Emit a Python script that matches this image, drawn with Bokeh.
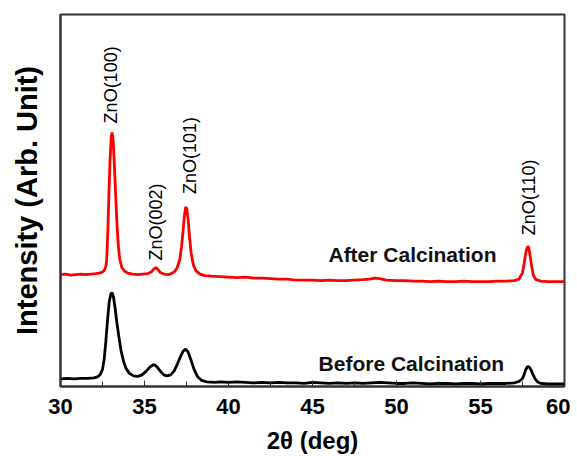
from bokeh.plotting import figure
from bokeh.models import FixedTicker, Range1d
from bokeh.core.properties import value
from bokeh.embed import file_html
from bokeh.resources import INLINE
import math

# 2-theta (deg) and intensity (arb. units)
after_x = [30.0, 30.3, 30.6, 30.9, 31.2, 31.5, 31.8, 32.1, 32.3, 32.5, 32.6, 32.7, 32.75, 32.82, 32.88,
           32.95, 33.02, 33.07, 33.13, 33.2, 33.28, 33.35, 33.43, 33.52, 33.65, 33.85, 34.0, 34.3, 34.6,
           34.9, 35.2, 35.4, 35.55, 35.68, 35.8, 35.95, 36.15, 36.4, 36.6, 36.8, 36.95, 37.1, 37.2, 37.3,
           37.38, 37.45, 37.52, 37.6, 37.68, 37.78, 37.9, 38.05, 38.3, 38.6, 39.0, 39.5, 40.0, 40.5, 41.0,
           41.5, 42.0, 42.5, 43.0, 43.5, 44.0, 44.5, 45.0, 45.5, 46.0, 46.5, 47.0, 47.5, 48.0, 48.4, 48.7,
           49.0, 49.4, 50.0, 50.5, 51.0, 51.5, 52.0, 52.5, 53.0, 53.5, 54.0, 54.5, 55.0, 55.5, 56.0, 56.5,
           57.0, 57.3, 57.5, 57.6, 57.7, 57.8, 57.87, 57.95, 58.05, 58.15, 58.3, 58.6, 59.0, 59.5, 60.0]
after_y = [111, 111.5, 110.5, 111, 111.5, 111, 111.5, 112, 112.5, 113.5, 115, 119, 125, 155, 190,
           225, 248, 252, 245, 222, 192, 165, 142, 127, 118, 114, 112.5, 111.5, 111,
           111.5, 112, 113.5, 116.5, 118, 116, 113, 111.5, 111, 112, 114, 118, 126, 138, 155,
           170, 178, 176, 165, 148, 132, 121, 115, 111.5, 110, 109.5, 109, 108.5, 108, 108.5,
           107.5, 107.5, 107, 106.5, 106.5, 105.5, 105.5, 105.5, 105, 105.5, 105, 105, 105.5, 106, 106.5, 107.5,
           107, 105.5, 105, 105, 104.5, 104.5, 104, 104.5, 104, 104, 104.5, 104, 104, 104, 104.5, 104.5,
           105, 106.5, 113, 122, 133, 139, 138, 130, 119, 110, 106, 104.5, 104, 104, 104]

before_x = [30.0, 30.4, 30.8, 31.2, 31.6, 32.0, 32.2, 32.35, 32.5, 32.6, 32.7, 32.8, 32.9, 33.0, 33.07,
            33.15, 33.25, 33.35, 33.47, 33.6, 33.75, 33.9, 34.1, 34.35, 34.6, 34.85, 35.1, 35.3, 35.5,
            35.6, 35.75, 35.95, 36.15, 36.35, 36.55, 36.75, 36.95, 37.15, 37.3, 37.45, 37.6, 37.75, 37.95,
            38.15, 38.4, 38.7, 39.2, 39.5, 40.0, 40.5, 41.0, 41.5, 42.0, 42.5, 43.0, 43.5, 44.0, 44.5,
            45.0, 45.5, 46.0, 46.5, 47.0, 47.5, 48.0, 48.5, 49.0, 49.5, 50.0, 50.5, 51.0, 51.5, 52.0,
            52.5, 53.0, 53.5, 54.0, 54.5, 55.0, 55.5, 56.0, 56.5, 57.0, 57.3, 57.5, 57.6, 57.7, 57.82,
            57.92, 58.02, 58.12, 58.25, 58.4, 58.6, 59.0, 59.5, 60.0]
before_y = [7.5, 8, 7.5, 8, 8, 8.5, 9.5, 11.5, 17, 27, 45, 66, 84, 92, 93,
            89, 78, 64, 50, 36, 25, 18, 13, 10.5, 10, 11.5, 15, 19, 21.5,
            21.5, 19.5, 15, 11.5, 10.5, 11.5, 15, 22, 30, 35, 37, 34, 27, 17,
            10, 6, 4.5, 4, 4.5, 4, 4.5, 4, 3.5, 4, 3.5, 4, 3.5, 3.5, 3,
            4, 3.5, 3, 3.5, 3, 3.5, 3, 3.5, 4, 3.5, 3, 3, 3.5, 3, 2.5,
            3, 3, 2.5, 3, 3, 2.5, 3, 3, 3, 3.5, 5, 8, 12, 17, 20,
            19, 16, 12, 7.5, 4.5, 3, 2.5, 2.5, 2.5]

peak_labels = ["ZnO(100)", "ZnO(002)", "ZnO(101)", "ZnO(110)"]
peak_label_x = [33.0, 35.70, 37.71, 57.86]
peak_label_y = [261, 125, 191, 150]

series_names = ["After Calcination", "Before Calcination"]
series_label_x = [45.95, 45.36]
series_label_y = [131, 23]

x_ticks = [30, 35, 40, 45, 50, 55, 60]
x_minor_ticks = [32.5, 37.5, 42.5, 47.5, 52.5, 57.5]

FONT = "Liberation Sans"

p = figure(width=570, height=456, output_backend="svg", toolbar_location=None,
           x_range=Range1d(30, 60), y_range=Range1d(0, 369),
           min_border_left=60, min_border_right=6, min_border_top=14, min_border_bottom=0)
p.grid.visible = False
p.background_fill_color = "white"
p.border_fill_color = "white"
p.outline_line_color = "#333333"
p.outline_line_width = 2

p.line(after_x, after_y, line_color="#ff0000", line_width=2.8)
p.line(before_x, before_y, line_color="black", line_width=2.8)

p.text(x=peak_label_x, y=peak_label_y, text=peak_labels, angle=math.pi / 2,
       text_align="left", text_baseline="middle", text_font=value(FONT),
       text_font_size="18px", text_color="black")
p.text(x=series_label_x, y=series_label_y, text=series_names,
       text_align="left", text_baseline="middle", text_font=value(FONT),
       text_font_size="21px", text_font_style="bold", text_color="#111111")

xa = p.xaxis[0]
xa.ticker = FixedTicker(ticks=x_ticks, minor_ticks=x_minor_ticks)
xa.major_tick_in = 6
xa.major_tick_out = 0
xa.minor_tick_in = 5
xa.minor_tick_out = 0
xa.major_tick_line_color = "#333333"
xa.minor_tick_line_color = "#333333"
xa.axis_line_color = "#333333"
xa.axis_line_width = 2
xa.major_label_text_font = FONT
xa.major_label_text_font_size = "22px"
xa.major_label_text_font_style = "bold"
xa.major_label_text_color = "black"
xa.major_label_standoff = 12
xa.axis_label = "2θ (deg)"
xa.axis_label_text_font = FONT
xa.axis_label_text_font_size = "24px"
xa.axis_label_text_font_style = "bold"
xa.axis_label_text_color = "black"
xa.axis_label_standoff = 10

ya = p.yaxis[0]
ya.ticker = FixedTicker(ticks=[])
ya.major_tick_in = 0
ya.major_tick_out = 0
ya.minor_tick_in = 0
ya.minor_tick_out = 0
ya.major_label_standoff = 0
ya.axis_line_color = "#333333"
ya.axis_line_width = 2
ya.axis_label = "Intensity (Arb. Unit)"
ya.axis_label_text_font = FONT
ya.axis_label_text_font_size = "29px"
ya.axis_label_text_font_style = "bold"
ya.axis_label_text_color = "black"
ya.axis_label_standoff = 18

open("out.html", "w").write(file_html(p, INLINE))
